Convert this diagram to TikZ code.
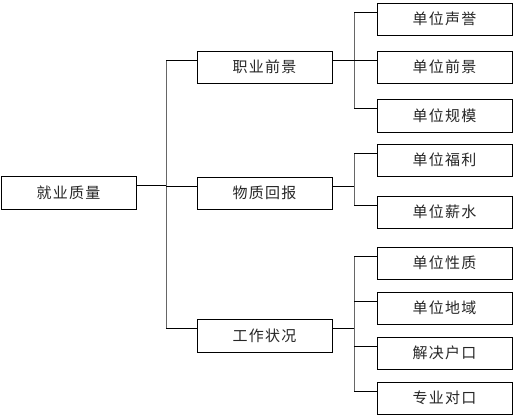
\documentclass[tikz,border=0pt]{standalone}
\usepackage{fontspec}
\newfontfamily\cjk[LetterSpace=8]{Noto Sans CJK SC}
\newcommand{\bt}[1]{\raisebox{-1.5pt}{#1}}
\begin{document}
\begin{tikzpicture}[x=1pt,y=-1pt,
  box/.style={draw=black,line width=1pt,minimum width=135pt,minimum height=32pt,inner sep=0pt,
    font=\cjk\fontsize{15pt}{17pt}\selectfont,text=black!85},
  hline/.style={draw=black,line width=1pt},
  vline/.style={draw=black!60,line width=0.9pt}]
\useasboundingbox (0,0) rectangle (514,415);
% nodes
\node[box,minimum height=33pt] (root) at (68.5,192.5) {\bt{就业质量}};
\node[box] (a) at (264.5,67) {\bt{职业前景}};
\node[box] (b) at (264.5,193) {\bt{物质回报}};
\node[box,minimum height=33pt] (c) at (264.5,335.5) {\bt{工作状况}};
\node[box] (a1) at (444.5,19) {\bt{单位声誉}};
\node[box] (a2) at (444.5,67) {\bt{单位前景}};
\node[box,minimum height=33pt] (a3) at (444.5,115.5) {\bt{单位规模}};
\node[box] (b1) at (444.5,160) {\bt{单位福利}};
\node[box] (b2) at (444.5,212) {\bt{单位薪水}};
\node[box] (c1) at (444.5,263) {\bt{单位性质}};
\node[box] (c2) at (444.5,308) {\bt{单位地域}};
\node[box] (c3) at (444.5,353) {\bt{解决户口}};
\node[box] (c4) at (444.5,398) {\bt{专业对口}};
% trunk x positions
\coordinate (t0) at (166,0);
\coordinate (t1) at (354,0);
% attach points
\foreach \n in {a,b,c,a1,a2,a3,b1,b2,c1,c2,c3,c4}{
  \coordinate (\n w) at ([yshift=-9.5pt]\n.north west);
}
\foreach \n in {root,a,b,c}{
  \coordinate (\n e) at ([yshift=-9.5pt]\n.north east);
}
% vertical trunks
\draw[vline] (t0 |- aw) -- (t0 |- cw);
\draw[vline] (t1 |- a1w) -- (t1 |- a3w);
\draw[vline] (t1 |- b1w) -- (t1 |- b2w);
\draw[vline] (t1 |- c1w) -- (t1 |- c4w);
% horizontal connectors
\draw[hline] (roote) -- (roote -| t0);
\foreach \n in {a,b,c}{
  \draw[hline] (t0 |- \n w) -- (\n w);
}
\draw[hline] (ae) -- (ae -| t1);
\draw[hline] (be) -- (be -| t1);
\draw[hline] (ce) -- (ce -| t1);
\foreach \n in {a1,a2,a3,b1,b2,c1,c2,c3,c4}{
  \draw[hline] (t1 |- \n w) -- (\n w);
}
\end{tikzpicture}
\end{document}
